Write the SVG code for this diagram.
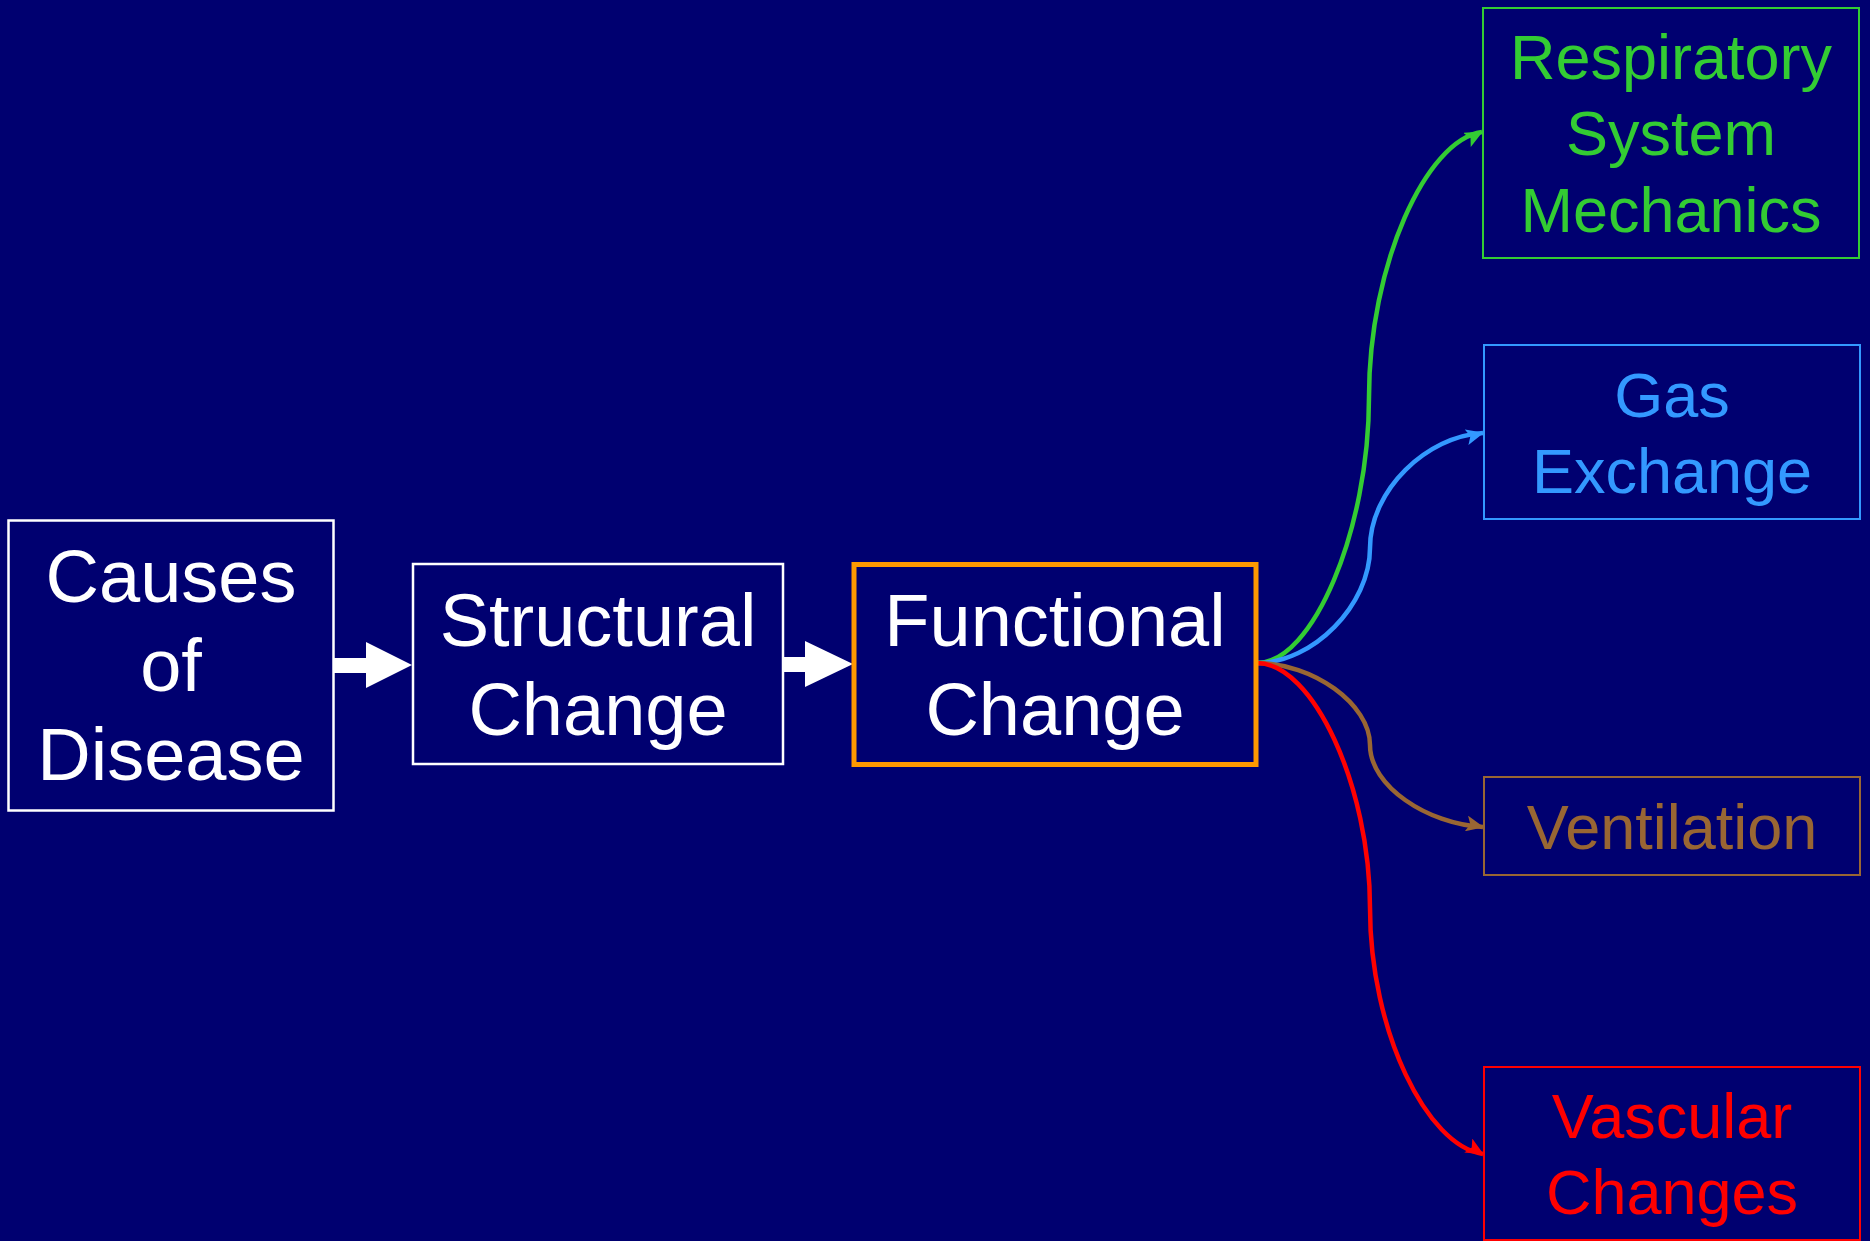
<svg xmlns="http://www.w3.org/2000/svg" width="1870" height="1241" viewBox="0 0 1870 1241">
<style>
text{font-family:"Liberation Sans",Arial,sans-serif;text-anchor:middle}
.big{font-size:74px;fill:#FFFFFF}
.small{font-size:63px}
.wbox{fill:none;stroke:#FFFFFF;stroke-width:2.5}
.rbox{fill:none;stroke-width:2}
.conn{fill:none;stroke-width:4.5}
</style>
<defs>
<marker id="mG" viewBox="0 0 18 16" refX="17" refY="8" markerWidth="18" markerHeight="16" markerUnits="userSpaceOnUse" orient="-28"><path d="M0,0 L18,8 L0,16 L4,8 z" fill="#33CC33"/></marker>
<marker id="mB" viewBox="0 0 18 16" refX="17" refY="8" markerWidth="18" markerHeight="16" markerUnits="userSpaceOnUse" orient="-14"><path d="M0,0 L18,8 L0,16 L4,8 z" fill="#3399FF"/></marker>
<marker id="mBr" viewBox="0 0 18 16" refX="17" refY="8" markerWidth="18" markerHeight="16" markerUnits="userSpaceOnUse" orient="12"><path d="M0,0 L18,8 L0,16 L4,8 z" fill="#996633"/></marker>
<marker id="mR" viewBox="0 0 18 16" refX="17" refY="8" markerWidth="18" markerHeight="16" markerUnits="userSpaceOnUse" orient="30"><path d="M0,0 L18,8 L0,16 L4,8 z" fill="#FF0000"/></marker>
</defs>
<rect width="1870" height="1241" fill="#000070"/>

<g id="connectors">
<polygon points="334,658 366,658 366,642 412,665 366,688 366,673 334,673" fill="#FFFFFF"/>
<polygon points="783,657 805,657 805,641 853,664 805,687 805,672 783,672" fill="#FFFFFF"/>
<path class="conn" stroke="#33CC33" d="M1257,663 C1313,663 1369,530 1369,397 C1369,265 1426,140 1482,132" marker-end="url(#mG)"/>
<path class="conn" stroke="#3399FF" d="M1257,663 C1313,663 1370,605 1370,548 C1370,490 1427,436 1483,433" marker-end="url(#mB)"/>
<path class="conn" stroke="#996633" d="M1257,663 C1313,663 1370,704 1370,745 C1370,786 1427,824 1483,827" marker-end="url(#mBr)"/>
<path class="conn" stroke="#FF0000" d="M1257,663 C1313,663 1370,786 1370,908 C1370,1031 1427,1146 1483,1154" marker-end="url(#mR)"/>
</g>

<g id="causes">
<rect class="wbox" x="8.5" y="520.5" width="325" height="290"/>
<text class="big" x="171" y="602">Causes</text>
<text class="big" x="171" y="691">of</text>
<text class="big" x="171" y="780">Disease</text>
</g>

<g id="structural">
<rect class="wbox" x="413" y="564" width="370" height="200"/>
<text class="big" x="598" y="646">Structural</text>
<text class="big" x="598" y="735">Change</text>
</g>

<g id="functional">
<rect x="854" y="564.5" width="402" height="200" fill="none" stroke="#FF9900" stroke-width="5"/>
<text class="big" x="1055" y="646">Functional</text>
<text class="big" x="1055" y="735">Change</text>
</g>

<g id="respiratory">
<rect class="rbox" stroke="#33CC33" x="1483" y="8" width="376" height="250"/>
<text class="small" fill="#33CC33" x="1671" y="79">Respiratory</text>
<text class="small" fill="#33CC33" x="1671" y="155">System</text>
<text class="small" fill="#33CC33" x="1671" y="232">Mechanics</text>
</g>

<g id="gas">
<rect class="rbox" stroke="#3399FF" x="1484" y="345" width="376" height="174"/>
<text class="small" fill="#3399FF" x="1672" y="417">Gas</text>
<text class="small" fill="#3399FF" x="1672" y="493">Exchange</text>
</g>

<g id="ventilation">
<rect class="rbox" stroke="#996633" x="1484" y="777" width="376" height="98"/>
<text class="small" fill="#996633" x="1672" y="849">Ventilation</text>
</g>

<g id="vascular">
<rect class="rbox" stroke="#FF0000" x="1484" y="1067" width="376" height="173"/>
<text class="small" fill="#FF0000" x="1672" y="1138">Vascular</text>
<text class="small" fill="#FF0000" x="1672" y="1214">Changes</text>
</g>
</svg>
